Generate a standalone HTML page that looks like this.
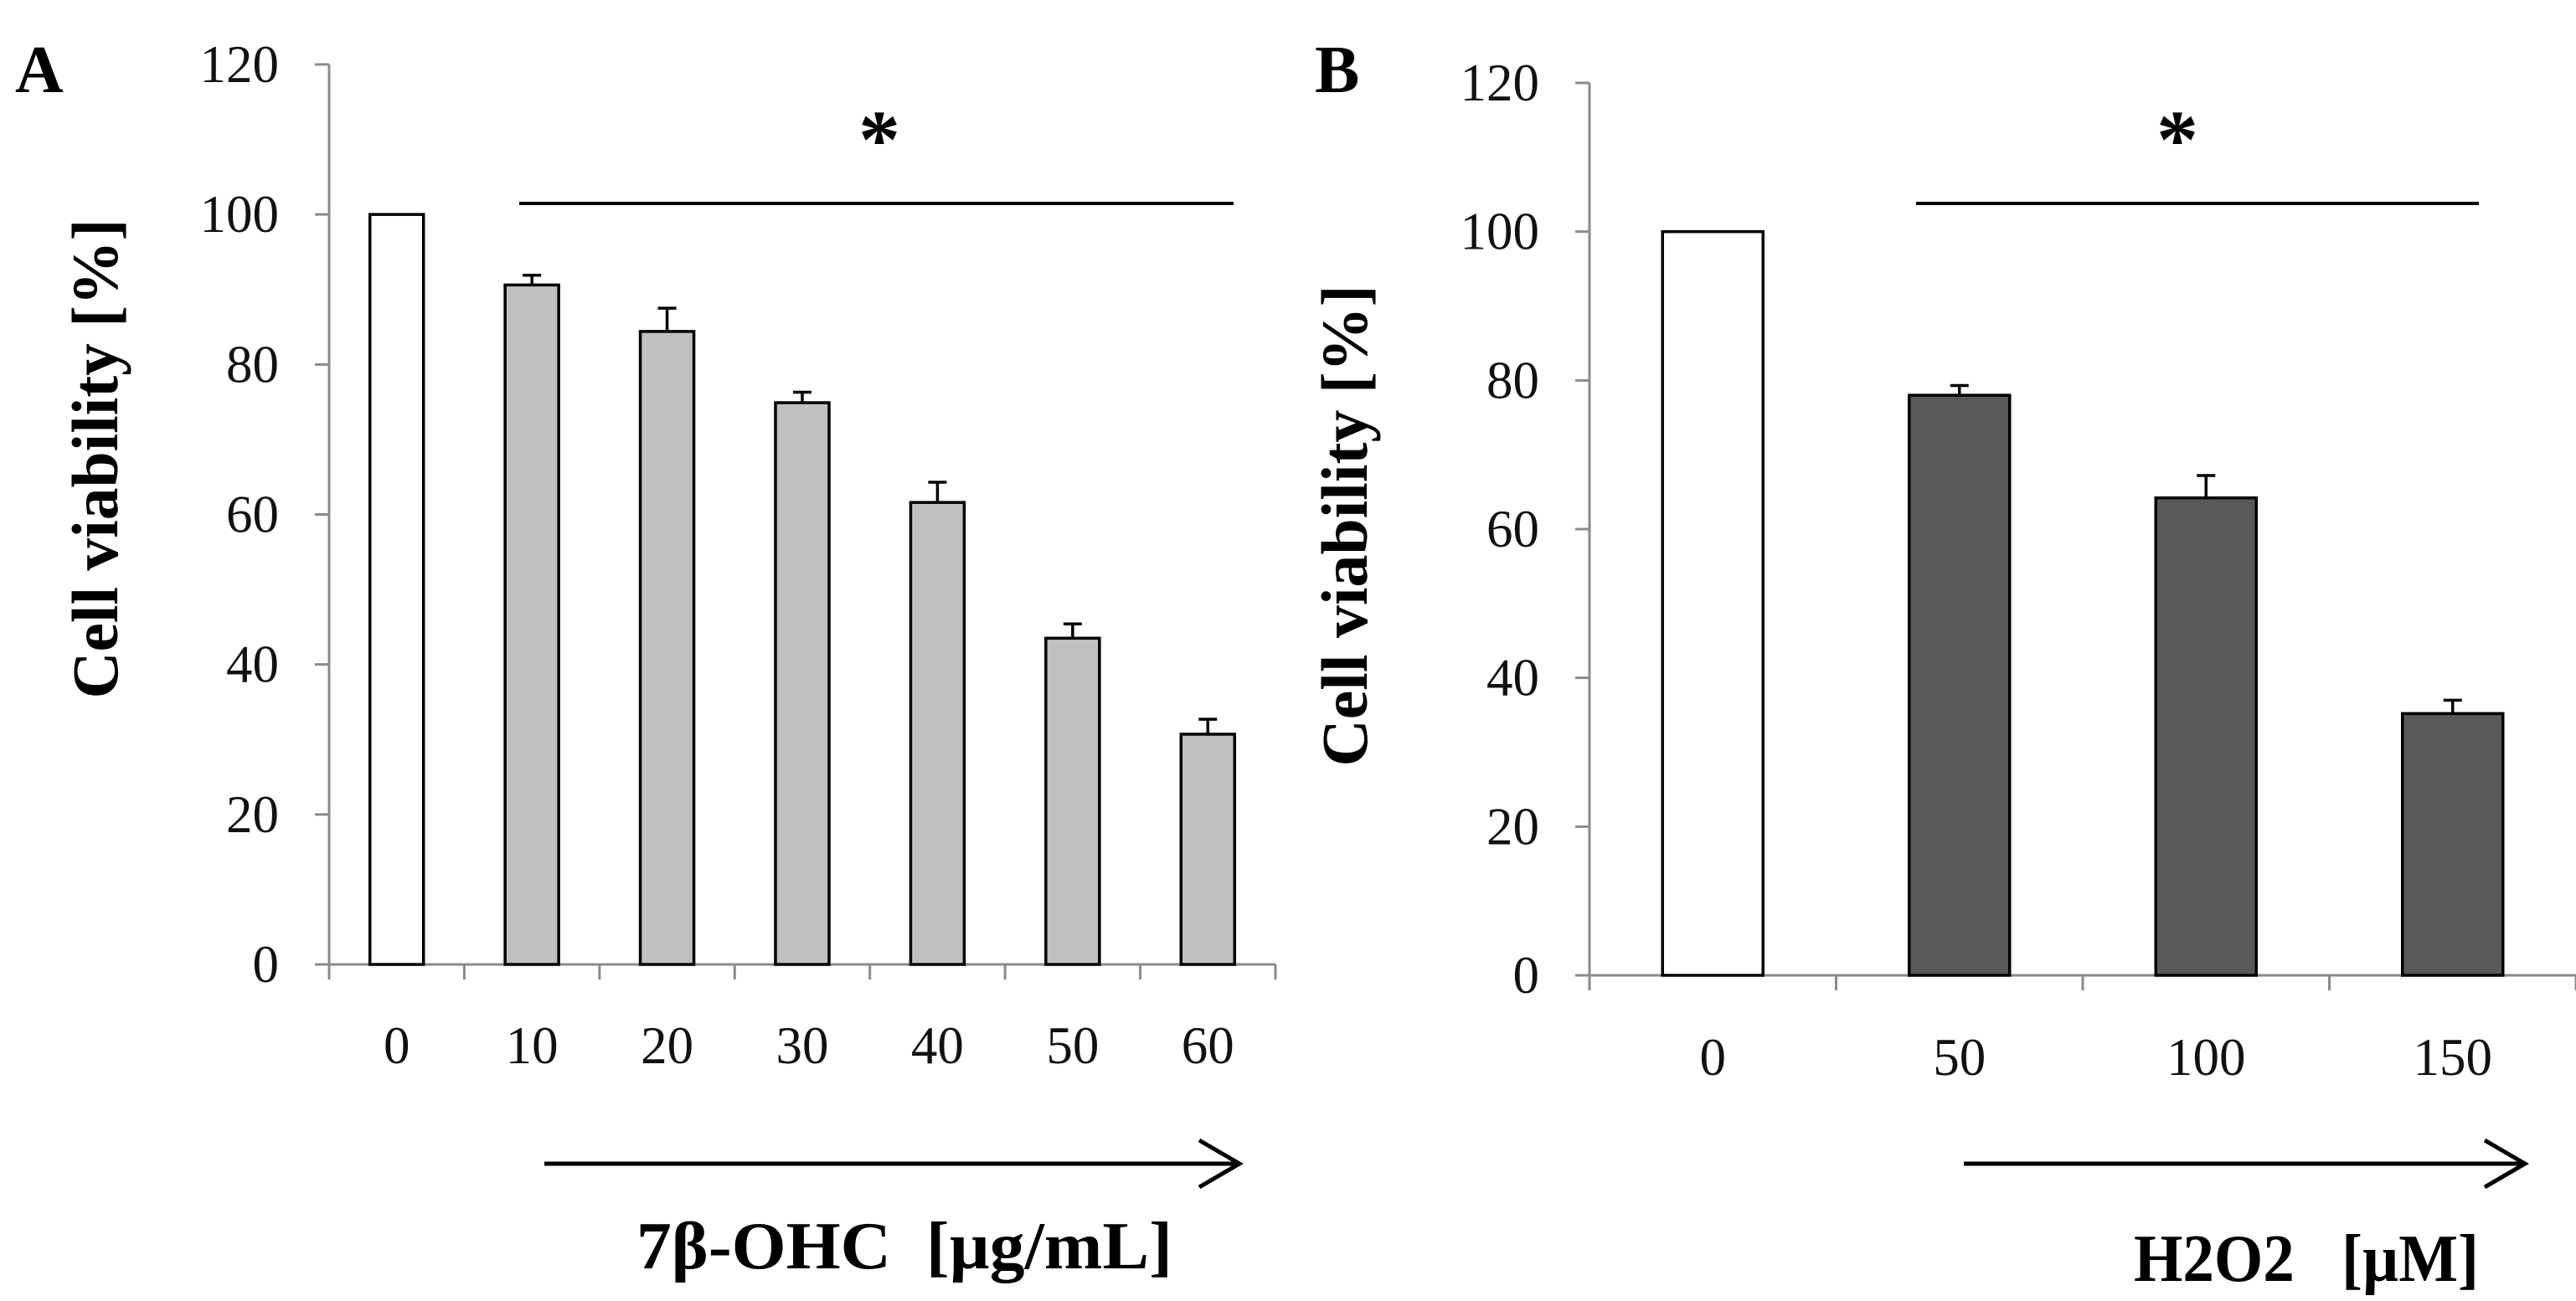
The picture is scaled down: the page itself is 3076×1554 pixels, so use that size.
<!DOCTYPE html>
<html><head><meta charset="utf-8"><style>
html,body{margin:0;padding:0;background:#fff;width:3076px;height:1554px;overflow:hidden}
svg{display:block}
text{font-family:"Liberation Serif",serif}
</style></head><body>
<svg id="fig" width="3076" height="1554" viewBox="0 0 3076 1554" xmlns="http://www.w3.org/2000/svg"></svg>
<script>
const catsA = ["0","10","20","30","40","50","60"];
const valsA = [100, 90.6, 84.4, 74.9, 61.6, 43.5, 30.7];
const errA = [0, 1.3, 3.1, 1.4, 2.7, 1.9, 2.0];
const catsB = ["0","50","100","150"];
const valsB = [100, 78.0, 64.2, 35.2];
const errB = [0, 1.3, 3.0, 1.8];
const yTicks = [0,20,40,60,80,100,120];

const svg = document.getElementById('fig');
const NS = 'http://www.w3.org/2000/svg';
function mk(tag, attrs, parent){
  const e = document.createElementNS(NS, tag);
  for (const k in attrs) e.setAttribute(k, attrs[k]);
  (parent||svg).appendChild(e);
  return e;
}

function panel(cfg){
  const g = mk('g', {});
  
  
  const {x0, x1, y0, y120, cats, vals, errs, barW, fill} = cfg;
  const ys = v => y0 - (y0 - y120) * v / 120;
  const bw = (x1 - x0) / cats.length;
  const xc = i => x0 + bw * (i + 0.5);
  const ya = mk('line', {x1:x0, y1:y120, x2:x0, y2:y0, stroke:'#8a8a8a', 'stroke-width':3}, g);
  
  
  yTicks.forEach(t => {
    mk('line', {x1:x0-17, y1:ys(t), x2:x0, y2:ys(t), stroke:'#8a8a8a', 'stroke-width':3}, g);
    const tl = mk('text', {x:x0-60, y:ys(t)+21, 'text-anchor':'end', 'font-size':63, fill:'#111'}, g);
    tl.textContent = t;
    
    
  });
  const xa = mk('line', {x1:x0-17, y1:y0, x2:x1, y2:y0, stroke:'#8a8a8a', 'stroke-width':3}, g);
  
  
  for (let i = 0; i <= cats.length; i++) {
    mk('line', {x1:x0+bw*i, y1:y0, x2:x0+bw*i, y2:y0+18, stroke:'#8a8a8a', 'stroke-width':3}, g);
  }
  cats.forEach((c, i) => {
    const v = vals[i];
    if (errs[i] > 0) {
      const e = mk('path', {d:`M${xc(i)} ${ys(v)} V${ys(v+errs[i])} M${xc(i)-11} ${ys(v+errs[i])} H${xc(i)+11}`, stroke:'#000', 'stroke-width':3.5, fill:'none'}, g);
      
      
    }
    const b = mk('rect', {x:xc(i)-barW/2, y:ys(v), width:barW, height:y0-ys(v), fill:i===0?'#fff':fill, stroke:'#000', 'stroke-width':3.5}, g);
    
    
    const tl = mk('text', {x:xc(i), y:cfg.labY, 'text-anchor':'middle', 'font-size':63, fill:'#111'}, g);
    tl.textContent = c;
    
    
  });
}

panel({name:'panel-a-chart', x0:393, x1:1523, y0:1152, y120:77, cats:catsA, vals:valsA, errs:errA, barW:64, fill:'#c0c0c0', labY:1270});
panel({name:'panel-b-chart', x0:1898, x1:3076, y0:1165, y120:99, cats:catsB, vals:valsB, errs:errB, barW:120, fill:'#595959', labY:1284});
</script>
<div style="position:absolute;left:0;top:0;width:3076px;height:1554px;pointer-events:none">
<svg width="3076" height="1554" viewBox="0 0 3076 1554" xmlns="http://www.w3.org/2000/svg" style="position:absolute;left:0;top:0">
  <defs><style>text{font-family:"Liberation Serif",serif}</style></defs>
  <text x="18" y="110" font-size="80" font-weight="bold">A</text>
  <text x="1570" y="110" font-size="80" font-weight="bold">B</text>
  <text transform="translate(140,548) rotate(-90)" text-anchor="middle" font-size="78" font-weight="bold" textLength="573" lengthAdjust="spacingAndGlyphs">Cell viability [%]</text>
  <text transform="translate(1632,628) rotate(-90)" text-anchor="middle" font-size="78" font-weight="bold" textLength="575" lengthAdjust="spacingAndGlyphs">Cell viability [%]</text>
  <line x1="620" y1="243" x2="1473" y2="243" stroke="#000" stroke-width="4"/>
  <text x="1050" y="200" text-anchor="middle" font-size="100" font-weight="bold">*</text>
  <line x1="2288" y1="243" x2="2960" y2="243" stroke="#000" stroke-width="4"/>
  <text x="2600" y="200" text-anchor="middle" font-size="100" font-weight="bold">*</text>
  <g stroke="#000" stroke-width="5" fill="none">
    <line x1="650" y1="1390" x2="1478" y2="1390"/><path d="M1432 1362 L1480 1390 L1432 1418"/>
  </g>
  <g stroke="#000" stroke-width="5" fill="none">
    <line x1="2345" y1="1390" x2="3013" y2="1390"/><path d="M2967 1362 L3015 1390 L2967 1418"/>
  </g>
  <text x="760" y="1515" font-size="80" font-weight="bold" xml:space="preserve" textLength="640" lengthAdjust="spacingAndGlyphs">7β-OHC  [µg/mL]</text>
  <text x="2548" y="1530" font-size="80" font-weight="bold" xml:space="preserve" textLength="412" lengthAdjust="spacingAndGlyphs">H2O2   [µM]</text>
</svg>
</div>
</body></html>
